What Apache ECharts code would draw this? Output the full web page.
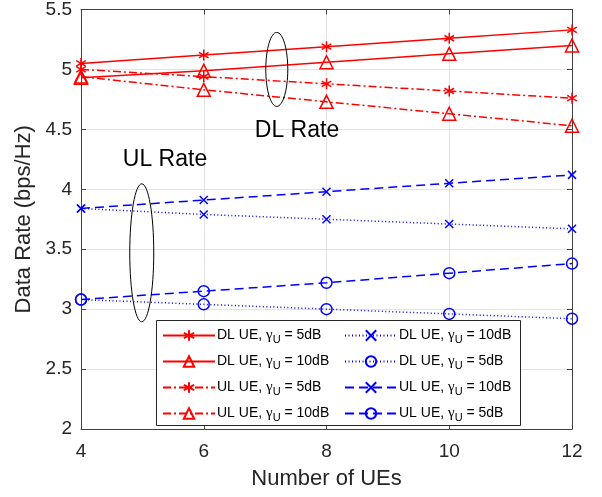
<!DOCTYPE html>
<html lang="en">
<head>
  <meta charset="UTF-8">
  <title>Data rate vs number of UEs</title>
  <script type="text/javascript" src="https://fastly.jsdelivr.net/npm/echarts@6/dist/echarts.min.js"></script>
  <style>
    html, body, #container {
      width: 100%;
      height: 100%;
      margin: 0;
      padding: 0;
      overflow: hidden;
      background: #fff;
    }
  </style>
</head>
<body>
  <div id="container"></div>

  <script type="text/javascript">

    var ues = [4, 6, 8, 10, 12];

    var dl5 = [5.05, 5.12, 5.19, 5.26, 5.33];
    var dl10 = [4.93, 4.99, 5.06, 5.13, 5.20];
    var ul5Red = [5.00, 4.94, 4.88, 4.82, 4.76];
    var ul10Red = [4.94, 4.83, 4.73, 4.63, 4.53];
    var dl10Blue = [3.84, 3.79, 3.75, 3.71, 3.67];
    var dl5Blue = [3.08, 3.04, 3.00, 2.96, 2.92];
    var ul10Blue = [3.84, 3.91, 3.98, 4.05, 4.12];
    var ul5Blue = [3.08, 3.15, 3.22, 3.30, 3.38];

    // legend texts: [link, gamma value]
    var labels = [
      ['DL UE', '5dB'], ['DL UE', '10dB'], ['UL UE', '5dB'], ['UL UE', '10dB'],
      ['DL UE', '10dB'], ['DL UE', '5dB'], ['UL UE', '10dB'], ['UL UE', '5dB']
    ];

    var star = 'path://M0,-1L0,1M-0.87,-0.5L0.87,0.5M-0.87,0.5L0.87,-0.5M-0.01,-0.01L0.01,0.01';
    var cross = 'path://M-1,-1L1,1M-1,1L1,-1';
    var dashDot = [8, 3, 2, 3];
    var dotted = [1, 2.5];
    var dashed = [9, 5];

    function pairs(arr) {
      return ues.map(function (x, i) { return [x, arr[i]]; });
    }

    function mk(id, data, color, dash, symbol, size) {
      return {
        name: id,
        type: 'line',
        data: pairs(data),
        symbol: symbol,
        symbolSize: size,
        symbolKeepAspect: true,
        showAllSymbol: true,
        color: color,
        lineStyle: { color: color, width: 1.5, type: dash },
        itemStyle: { color: 'rgba(0,0,0,0)', borderColor: color, borderWidth: 1.5 },
        emphasis: { disabled: true },
        animation: false
      };
    }

    var red = '#ff0000', blue = '#0000ff';
    var series = [
      mk('s0', dl5, red, 'solid', star, 11),
      mk('s1', dl10, red, 'solid', 'triangle', 13),
      mk('s2', ul5Red, red, dashDot, star, 11),
      mk('s3', ul10Red, red, dashDot, 'triangle', 13),
      mk('s4', dl10Blue, blue, dotted, cross, 8),
      mk('s5', dl5Blue, blue, dotted, 'circle', 11),
      mk('s6', ul10Blue, blue, dashed, cross, 8),
      mk('s7', ul5Blue, blue, dashed, 'circle', 11)
    ];

    function legendText(name) {
      var l = labels[+name.slice(1)];
      return l[0] + ', {g|γ}{s|U} = ' + l[1];
    }

    var rich = {
      g: { fontSize: 15, fontFamily: 'Liberation Serif', color: '#000' },
      s: { fontSize: 11, color: '#000', padding: [9, 0, 0, 0] }
    };

    function legend(left, names) {
      return {
        orient: 'vertical',
        left: left,
        top: 323,
        itemWidth: 52,
        itemHeight: 13,
        itemGap: 8.5,
        selectedMode: false,
        data: names,
        formatter: legendText,
        textStyle: { fontSize: 14, fontFamily: 'Liberation Sans', color: '#000', rich: rich, padding: [0, 0, 0, -3] }
      };
    }

    var axisColor = '#404040';
    var baseAxis = {
      axisLine: { show: true, onZero: false, lineStyle: { color: axisColor, width: 1 } },
      axisTick: { show: true, inside: true, length: 5, lineStyle: { color: axisColor } },
      axisLabel: { color: '#262626', fontSize: 19, fontFamily: 'Liberation Sans' },
      nameTextStyle: { color: '#262626', fontSize: 22, fontFamily: 'Liberation Sans' }
    };

    var myChart = echarts.init(document.getElementById('container'), null, { renderer: 'canvas' });

    myChart.setOption({
      animation: false,
      grid: { left: 81, right: 30, top: 7, bottom: 68 },
      legend: [legend(157, ['s0', 's1', 's2', 's3']), legend(339, ['s4', 's5', 's6', 's7'])],
      xAxis: [
        Object.assign({}, baseAxis, {
          type: 'value', min: 4, max: 12, interval: 2,
          name: 'Number of UEs', nameLocation: 'middle', nameGap: 39,
          axisLabel: Object.assign({}, baseAxis.axisLabel, { margin: 13 }),
          splitLine: { show: true, lineStyle: { color: '#e3e3e3' } }
        }),
        Object.assign({}, baseAxis, {
          type: 'value', min: 4, max: 12, interval: 2, position: 'top',
          axisLabel: { show: false }, splitLine: { show: false }
        })
      ],
      yAxis: [
        Object.assign({}, baseAxis, {
          type: 'value', min: 2, max: 5.5, interval: 0.5,
          name: 'Data Rate (bps/Hz)', nameLocation: 'middle', nameGap: 44,
          axisLabel: Object.assign({}, baseAxis.axisLabel, { margin: 9 }),
          splitLine: { show: true, lineStyle: { color: '#e3e3e3' } }
        }),
        Object.assign({}, baseAxis, {
          type: 'value', min: 2, max: 5.5, interval: 0.5, position: 'right',
          axisLabel: { show: false }, splitLine: { show: false }
        })
      ],
      series: series
    });

    // annotations: ellipses around line groups and their captions
    function px(x, y) { return myChart.convertToPixel({ gridIndex: 0 }, [x, y]); }
    var dlC = px(7.19, 5.0), ulC = px(4.99, 3.47);

    myChart.setOption({
      graphic: [
        { type: 'ellipse', shape: { cx: dlC[0], cy: dlC[1], rx: 11, ry: 37 },
          style: { fill: 'none', stroke: '#000', lineWidth: 1 }, z: 10 },
        { type: 'ellipse', shape: { cx: ulC[0], cy: ulC[1], rx: 12, ry: 69 },
          style: { fill: 'none', stroke: '#000', lineWidth: 1 }, z: 10 },
        { type: 'text', x: 297, y: 131, style: { text: 'DL Rate', fontSize: 23, fontFamily: 'Liberation Sans',
          fill: '#000', align: 'center', verticalAlign: 'middle' }, z: 10 },
        { type: 'text', x: 165, y: 160, style: { text: 'UL Rate', fontSize: 23, fontFamily: 'Liberation Sans',
          fill: '#000', align: 'center', verticalAlign: 'middle' }, z: 10 },
        { type: 'rect', shape: { x: 156.5, y: 320.5, width: 364, height: 105 },
          style: { fill: '#fff', stroke: '#262626', lineWidth: 1 }, z: 1 }
      ]
    });
  </script>
</body>
</html>
